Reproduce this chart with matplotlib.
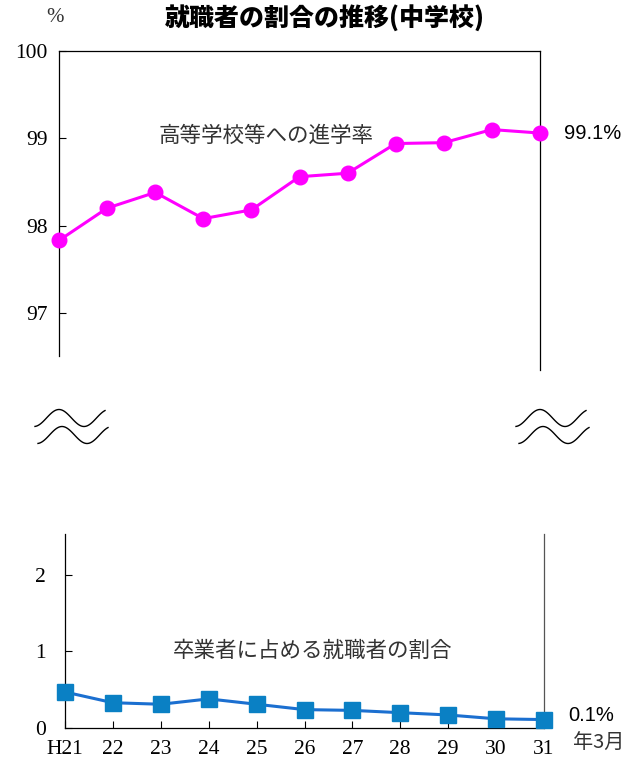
import numpy as np
import matplotlib
matplotlib.use("Agg")
import matplotlib.pyplot as plt

# data
years = ["H21", "22", "23", "24", "25", "26", "27", "28", "29", "30", "31"]
shingaku = [97.83, 98.20, 98.38, 98.08, 98.18, 98.56, 98.60, 98.94, 98.95, 99.10, 99.06]
shushoku = [0.47, 0.33, 0.31, 0.38, 0.31, 0.24, 0.23, 0.20, 0.17, 0.12, 0.11]
top_ticks = [97, 98, 99, 100]
bottom_ticks = [0, 1, 2]

jp = ["Noto Sans CJK JP", "DejaVu Sans"]
serif = "Liberation Serif"

W, H = 623, 764
fig = plt.figure(figsize=(W / 100, H / 100), dpi=100)

def box(l, t, r, b):
    return [l / W, 1 - b / H, (r - l) / W, (b - t) / H]

x = np.arange(len(years))

# --- upper panel (進学率)
ax1 = fig.add_axes(box(59, 51, 540, 370))
ax1.plot(x, shingaku, color="#ff00ff", lw=2.2, marker="o", ms=10.5, clip_on=False, zorder=3)
ax1.set_xlim(0, len(years) - 1)
ax1.set_ylim(100 - (370 - 51) / 87.3, 100)
ax1.spines["bottom"].set_visible(False)
ax1.spines["left"].set_bounds(100 - (356 - 51) / 87.3, 100)
for s in ax1.spines.values():
    s.set_linewidth(0.9)
ax1.set_xticks([])
ax1.set_yticks(top_ticks)
ax1.set_yticklabels([str(v) for v in top_ticks], fontfamily=serif, fontsize=15.5)
ax1.tick_params(axis="y", direction="in", length=5, pad=8)
ax1.text(0.43, 0.735, "高等学校等への進学率", transform=ax1.transAxes, ha="center", va="center",
         fontsize=15.5, family=jp, color="#333333")
ax1.text(1.05, shingaku[-1], "99.1%", transform=ax1.get_yaxis_transform(), ha="left", va="center",
         fontsize=14.5, family="Liberation Sans")

# --- lower panel (就職者の割合)
ax2 = fig.add_axes(box(65, 534, 544, 728))
ax2.plot(x, shushoku, color="#1b6fd0", lw=2.2, marker="s", ms=11.5, mfc="#0a80c4", mec="#0a80c4",
         clip_on=False, zorder=3)
ax2.set_xlim(0, len(years) - 1)
ax2.set_ylim(0, (728 - 534) / 76.6)
ax2.spines["top"].set_visible(False)
ax2.spines["right"].set_color("#555555")
for s in ax2.spines.values():
    s.set_linewidth(0.9)
ax2.set_xticks(x)
ax2.set_xticklabels(years, fontfamily=serif, fontsize=15.5)
ax2.set_yticks(bottom_ticks)
ax2.set_yticklabels([str(v) for v in bottom_ticks], fontfamily=serif, fontsize=15.5)
ax2.tick_params(axis="y", direction="in", length=5, pad=14)
ax2.tick_params(axis="x", direction="in", length=5, pad=9)
ax2.text(0.517, 0.4, "卒業者に占める就職者の割合", transform=ax2.transAxes, ha="center", va="center",
         fontsize=15.5, family=jp, color="#333333")
ax2.text(1.05, shushoku[-1] + 0.05, "0.1%", transform=ax2.get_yaxis_transform(), ha="left", va="center",
         fontsize=14.5, family="Liberation Sans")
ax2.text(1.06, -0.2, "年3月", transform=ax2.get_yaxis_transform(), ha="left", va="center",
         fontsize=14.5, family=jp, color="#333333")

# --- titles
fig.text(325 / W, 1 - 18 / H, "就職者の割合の推移(中学校)", ha="center", va="center",
         fontsize=18, fontweight="heavy", family=jp)
fig.text(55 / W, 1 - 18 / H, "%", ha="center", va="center", fontsize=15, family=serif, color="#333333")

# --- break marks (double waves)
def wave(x0, y0):
    xs = np.linspace(0, 70, 80)
    ys = y0 - 8.5 * np.cos(2 * np.pi * (xs - 24) / 50)
    fig.add_artist(plt.Line2D((x0 + xs) / W, 1 - ys / H, transform=fig.transFigure, color="k", lw=1))

for bx in (35, 516):
    wave(bx, 418)
    wave(bx + 3, 435)

fig.savefig("out.png", dpi=100)
